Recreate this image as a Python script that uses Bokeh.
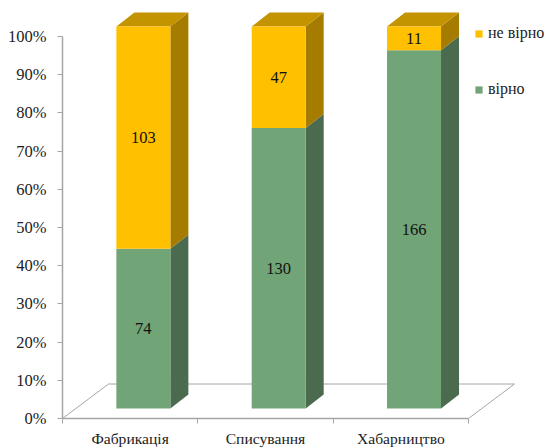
from bokeh.plotting import figure
from bokeh.embed import file_html
from bokeh.resources import INLINE
from bokeh.models import ColumnDataSource, FixedTicker, Legend, LegendItem, LinearAxis, PrintfTickFormatter
from bokeh.core.properties import value

categories = ["Фабрикація", "Списування", "Хабарництво"]
correct = [74, 130, 166]
wrong = [103, 47, 11]
y_ticks = [0, 10, 20, 30, 40, 50, 60, 70, 80, 90, 100]
legend_wrong = "не вірно"
legend_correct = "вірно"

FONT = "Liberation Serif"
GRAY = "#A6A6A6"
GREEN, GREEN_SIDE = "#71A477", "#4A6B4E"
YELLOW, YELLOW_SIDE, YELLOW_TOP = "#FFC000", "#A67C00", "#C49400"

# pixel scale of the plot frame
PX_X = 135.33
PX_Y = 3.82
off_x, off_y = 13.2 / PX_X, 10 / PX_Y
half_w = 27 / PX_X
dep_x, dep_y = 18 / PX_X, 14 / PX_Y
floor_x, floor_y = 46 / PX_X, 34.5 / PX_Y

p = figure(width=546, height=448, frame_width=484, frame_height=418,
           output_backend="svg", toolbar_location=None,
           x_range=(0, 484 / PX_X), y_range=(0, 418 / PX_Y),
           min_border_left=62, min_border_right=0, min_border_top=0, min_border_bottom=30,
           x_axis_type=None, y_axis_type=None, outline_line_color=None)
p.grid.visible = False

n = len(categories)
# floor of the 3-D box
p.patch([0, floor_x, n + floor_x, n], [0, floor_y, floor_y, 0],
        fill_color=None, line_color=GRAY, line_width=1)

lefts, rights, cents, share = [], [], [], []
for i, (c, w) in enumerate(zip(correct, wrong)):
    cx = i + 0.5 + off_x
    cents.append(cx)
    lefts.append(cx - half_w)
    rights.append(cx + half_w)
    share.append(100 * c / (c + w))

base = off_y
top = 100 + off_y
mid = [base + s for s in share]


def side(r, b, t):
    return ([r, r + dep_x, r + dep_x, r], [b, b + dep_y, t + dep_y, t])


for r, m in zip(rights, mid):
    xs, ys = side(r, base, m)
    p.patch(xs, ys, fill_color=GREEN_SIDE, line_color=None)
    xs, ys = side(r, m, top)
    p.patch(xs, ys, fill_color=YELLOW_SIDE, line_color=None)
for l, r in zip(lefts, rights):
    p.patch([l, l + dep_x, r + dep_x, r], [top, top + dep_y, top + dep_y, top],
            fill_color=YELLOW_TOP, line_color=None)

src = ColumnDataSource(dict(left=lefts, right=rights, base=[base] * n, mid=mid, top=[top] * n,
                            cx=cents,
                            y_c=[(base + m) / 2 for m in mid],
                            y_w=[(m + top) / 2 for m in mid],
                            t_c=[str(v) for v in correct],
                            t_w=[str(v) for v in wrong]))
r_c = p.quad(left="left", right="right", bottom="base", top="mid", source=src,
             fill_color=GREEN, line_color=None)
r_w = p.quad(left="left", right="right", bottom="mid", top="top", source=src,
             fill_color=YELLOW, line_color=None)
for y, t in (("y_c", "t_c"), ("y_w", "t_w")):
    p.text(x="cx", y=y, text=t, source=src, text_align="center", text_baseline="middle",
           text_font=value(FONT), text_font_size="16.5px", text_color="#111111")

yax = LinearAxis(bounds=(0, 100), ticker=FixedTicker(ticks=y_ticks),
                 formatter=PrintfTickFormatter(format="%d%%"))
yax.major_label_text_font = FONT
yax.major_label_text_font_size = "16.5px"
yax.major_label_text_color = "#222222"
yax.major_label_standoff = 11
yax.major_tick_in = 0
yax.major_tick_out = 5
yax.major_tick_line_color = GRAY
yax.axis_line_color = GRAY
yax.axis_line_width = 1.5
yax.minor_tick_line_color = None
p.add_layout(yax, "left")

xax = LinearAxis(bounds=(0, n),
                 ticker=FixedTicker(ticks=[i + 0.5 for i in range(n)],
                                    minor_ticks=list(range(n + 1))))
xax.major_label_overrides = {i + 0.5: c for i, c in enumerate(categories)}
xax.major_label_text_font = FONT
xax.major_label_text_font_size = "15.6px"
xax.major_label_text_color = "#222222"
xax.major_label_standoff = 6
xax.major_tick_line_color = None
xax.major_tick_out = 0
xax.minor_tick_in = 0
xax.minor_tick_out = 5
xax.minor_tick_line_color = GRAY
xax.axis_line_color = GRAY
xax.axis_line_width = 1.5
p.add_layout(xax, "below")

legend = Legend(items=[LegendItem(label=legend_wrong, renderers=[r_w]),
                       LegendItem(label=legend_correct, renderers=[r_c])],
                location=(412, 320), orientation="vertical",
                glyph_width=9, glyph_height=9, label_height=9, label_width=10,
                label_standoff=5, spacing=38, padding=0, margin=0,
                background_fill_alpha=0, border_line_color=None,
                label_text_font=FONT, label_text_font_size="16px", label_text_color="#222222")
p.add_layout(legend, "center")

open("out.html", "w").write(file_html(p, INLINE))
